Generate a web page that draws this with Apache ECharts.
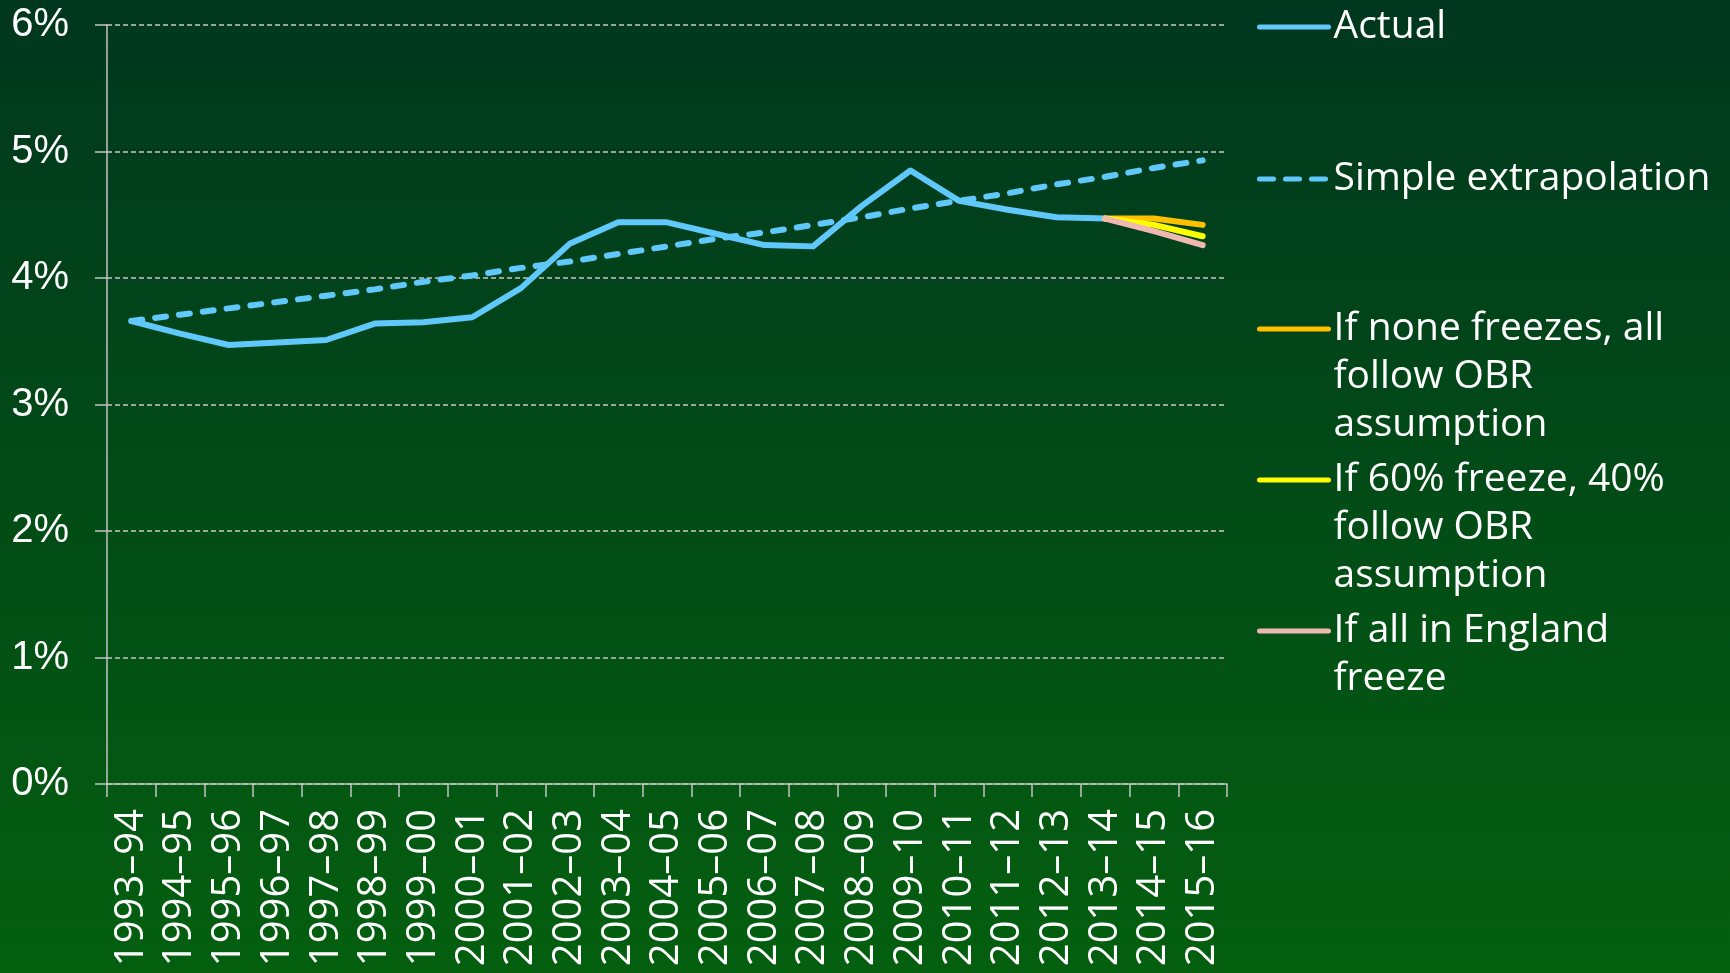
<!DOCTYPE html>
<html>
<head>
<meta charset="utf-8">
<title>Council tax share</title>
<script src="https://cdn.jsdelivr.net/npm/echarts@6/dist/echarts.min.js"></script>
<style>
  html, body { margin: 0; padding: 0; }
  #chart { width: 1730px; height: 973px; }
</style>
</head>
<body>
<div id="chart"></div>
<script>
// data (% values)
var years = ['1993–94', '1994–95', '1995–96', '1996–97', '1997–98', '1998–99', '1999–00',
  '2000–01', '2001–02', '2002–03', '2003–04', '2004–05', '2005–06', '2006–07', '2007–08',
  '2008–09', '2009–10', '2010–11', '2011–12', '2012–13', '2013–14', '2014–15', '2015–16'];
var actual = [3.66, 3.56, 3.47, 3.49, 3.51, 3.64, 3.65, 3.69, 3.92, 4.27, 4.44, 4.44,
  4.35, 4.26, 4.25, 4.57, 4.85, 4.61, 4.54, 4.48, 4.47, null, null];
var extrapolation = [3.66, 3.71, 3.76, 3.81, 3.86, 3.91, 3.97, 4.02, 4.08, 4.13, 4.19, 4.25,
  4.31, 4.36, 4.42, 4.48, 4.55, 4.61, 4.67, 4.74, 4.80, 4.87, 4.93];
var noneFreeze = [null, null, null, null, null, null, null, null, null, null, null, null,
  null, null, null, null, null, null, null, null, 4.47, 4.47, 4.42];
var sixtyFreeze = [null, null, null, null, null, null, null, null, null, null, null, null,
  null, null, null, null, null, null, null, null, 4.47, 4.42, 4.33];
var allFreeze = [null, null, null, null, null, null, null, null, null, null, null, null,
  null, null, null, null, null, null, null, null, 4.47, 4.37, 4.26];
var yTicks = [0, 1, 2, 3, 4, 5, 6];

var names = ['Actual', 'Simple extrapolation', 'If none freezes, all follow OBR assumption',
  'If 60% freeze, 40% follow OBR assumption', 'If all in England freeze'];
// how each legend label wraps
var legendText = [
  ['Actual'],
  ['Simple extrapolation'],
  ['If none freezes, all', 'follow OBR', 'assumption'],
  ['If 60% freeze, 40%', 'follow OBR', 'assumption'],
  ['If all in England', 'freeze']
];
var legendY = [27, 179, 329, 480, 631];   // centre of each legend line
var LH = 48;

var chart = echarts.init(document.getElementById('chart'));

function makeLegend(i) {
  var lines = legendText[i];
  // pad with blank lines so the first text line sits level with the icon
  var padded = [];
  for (var k = 1; k < lines.length; k++) padded.push('');
  padded = padded.concat(lines);
  return {
    data: [names[i]],
    orient: 'vertical',
    left: 1257,
    top: legendY[i] - padded.length * LH / 2,
    padding: 0,
    itemWidth: 69,
    itemHeight: 14,
    itemStyle: { opacity: 0 },
    lineStyle: {
      width: 5,
      cap: 'round',
      type: i === 1 ? [14, 12] : 'solid'
    },
    formatter: function () { return padded.join('\n'); },
    textStyle: {
      color: '#ffffff',
      fontFamily: 'Open Sans',
      fontSize: 39,
      lineHeight: LH
    }
  };
}

function lineSeries(name, data, color, dashed) {
  return {
    name: name,
    type: 'line',
    data: data,
    symbol: 'none',
    connectNulls: false,
    lineStyle: {
      color: color,
      width: 6,
      type: dashed ? [11, 13] : 'solid',
      cap: 'round',
      join: 'round'
    },
    itemStyle: { color: color }
  };
}

var option = {
  animation: false,
  backgroundColor: {
    type: 'linear', x: 0, y: 0, x2: 0, y2: 1,
    colorStops: [
      { offset: 0, color: '#00371f' },
      { offset: 1, color: '#045f0f' }
    ]
  },
  grid: { left: 107, right: 503, top: 25, bottom: 189 },
  legend: [makeLegend(0), makeLegend(1), makeLegend(2), makeLegend(3), makeLegend(4)],
  xAxis: {
    type: 'category',
    data: years,
    boundaryGap: true,
    axisLine: { lineStyle: { color: '#c4c4c4', width: 1.5 } },
    axisTick: { show: true, interval: 0, length: 13, lineStyle: { color: '#c4c4c4', width: 1.5 } },
    axisLabel: {
      interval: 0,
      rotate: 90,
      margin: 25,
      color: '#ffffff',
      fontFamily: 'Open Sans',
      fontSize: 40
    }
  },
  yAxis: {
    type: 'value',
    min: yTicks[0],
    max: yTicks[yTicks.length - 1],
    interval: 1,
    axisLine: { show: true, lineStyle: { color: '#c4c4c4', width: 1.5 } },
    axisTick: { show: true, length: 12, lineStyle: { color: '#c4c4c4', width: 1.5 } },
    axisLabel: {
      formatter: '{value}%',
      margin: 38,
      color: '#ffffff',
      fontFamily: 'Liberation Sans',
      fontSize: 40
    },
    splitLine: { lineStyle: { color: '#c8c8c8', width: 1.5, type: [5, 3] } }
  },
  series: [
    lineSeries(names[0], actual, '#60c8fa', false),
    lineSeries(names[1], extrapolation, '#60c8fa', true),
    lineSeries(names[2], noneFreeze, '#ffc000', false),
    lineSeries(names[3], sixtyFreeze, '#ffff00', false),
    lineSeries(names[4], allFreeze, '#efb9b2', false)
  ]
};

chart.setOption(option);
</script>
</body>
</html>
